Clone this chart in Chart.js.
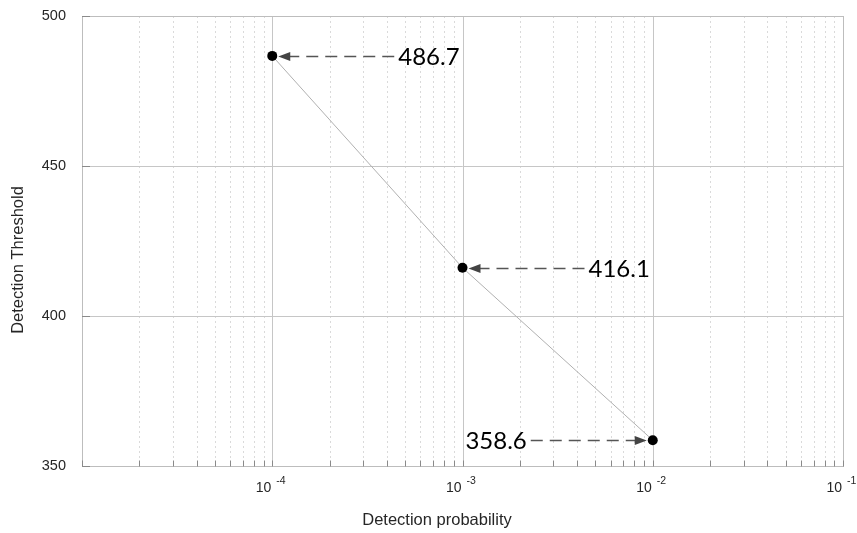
<!DOCTYPE html>
<html>
<head>
<meta charset="utf-8">
<script src="https://cdn.jsdelivr.net/npm/chart.js@4"></script>
<style>
  html,body{margin:0;padding:0;background:#fff;}
  #c{display:block;}
</style>
</head>
<body>
<canvas id="c" width="857" height="533"></canvas>
<script>
// data
const xVals=[1e-4,1e-3,1e-2];
const yVals=[486.7,416.1,358.6];
const yTicks=[350,400,450,500];
const xDecades=[1e-5,1e-4,1e-3,1e-2,1e-1];
const xLabelExps=[-4,-3,-2,-1];
const xMinorMult=[2,3,4,5,6,7,8,9];
// which side each callout sits on (+1 right, -1 left)
const calloutSide=[1,1,-1];

const xGrid=[];
xDecades.forEach((d,i)=>{ xGrid.push(d); if(i<xDecades.length-1) xMinorMult.forEach(m=>xGrid.push(m*d)); });

const FONT='"Liberation Sans", Arial, sans-serif';

const decor={
  id:'decor',
  beforeDatasetsDraw(chart){
    const {ctx,chartArea:a,scales:{x,y}}=chart;
    ctx.save();
    // minor x grid (dotted)
    ctx.lineWidth=1; ctx.strokeStyle='#dadada'; ctx.setLineDash([2,3]);
    xGrid.forEach(v=>{
      if(xDecades.includes(v)) return;
      const px=Math.round(x.getPixelForValue(v))+0.5;
      ctx.beginPath(); ctx.moveTo(px,a.top); ctx.lineTo(px,a.bottom); ctx.stroke();
    });
    ctx.setLineDash([]);
    // major grid
    ctx.strokeStyle='#c6c6c6';
    xDecades.forEach(v=>{
      const px=Math.round(x.getPixelForValue(v))+0.5;
      ctx.beginPath(); ctx.moveTo(px,a.top); ctx.lineTo(px,a.bottom); ctx.stroke();
    });
    yTicks.forEach(v=>{
      const py=Math.round(y.getPixelForValue(v))+0.5;
      ctx.beginPath(); ctx.moveTo(a.left,py); ctx.lineTo(a.right,py); ctx.stroke();
    });
    // box
    ctx.strokeStyle='#bdbdbd';
    ctx.strokeRect(Math.round(a.left)+0.5,Math.round(a.top)+0.5,Math.round(a.right-a.left),Math.round(a.bottom-a.top));
    // inward tick marks
    ctx.strokeStyle='#8a8a8a';
    const bot=Math.round(a.bottom)+0.5;
    xGrid.forEach(v=>{
      const px=Math.round(x.getPixelForValue(v))+0.5;
      ctx.beginPath(); ctx.moveTo(px,bot); ctx.lineTo(px,bot-6); ctx.stroke();
    });
    yTicks.forEach(v=>{
      const py=Math.round(y.getPixelForValue(v))+0.5;
      ctx.beginPath(); ctx.moveTo(a.left,py); ctx.lineTo(a.left+8,py); ctx.stroke();
    });
    // tick labels
    ctx.fillStyle='#262626'; ctx.textBaseline='middle';
    ctx.font='14.5px '+FONT; ctx.textAlign='right';
    yTicks.forEach(v=>{ ctx.fillText(String(v),66,y.getPixelForValue(v)); });
    xLabelExps.forEach(e=>{
      const px=x.getPixelForValue(Math.pow(10,e));
      ctx.font='14px '+FONT; ctx.textAlign='right';
      ctx.fillText('10',px-1,a.bottom+22);
      ctx.font='10.5px '+FONT; ctx.textAlign='left';
      ctx.fillText(String(e),px+4,a.bottom+15);
    });
    // axis titles
    ctx.font='16.5px '+FONT; ctx.textAlign='center';
    ctx.fillText('Detection probability',437,520);
    ctx.save(); ctx.translate(18,260); ctx.rotate(-Math.PI/2);
    ctx.fillText('Detection Threshold',0,0); ctx.restore();
    ctx.restore();
  },
  afterDatasetsDraw(chart){
    const {ctx,scales:{x,y}}=chart;
    ctx.save();
    xVals.forEach((xv,i)=>{
      const px=x.getPixelForValue(xv), py=Math.round(y.getPixelForValue(yVals[i]))+0.5;
      const s=calloutSide[i];
      const tip=px+s*6, tail=px+s*122;
      ctx.strokeStyle='#555'; ctx.lineWidth=1.5; ctx.setLineDash([12,7]);
      ctx.beginPath(); ctx.moveTo(tail,py); ctx.lineTo(tip+s*8,py); ctx.stroke();
      ctx.setLineDash([]);
      ctx.fillStyle='#444';
      ctx.beginPath(); ctx.moveTo(tip,py); ctx.lineTo(tip+s*12,py-4.5); ctx.lineTo(tip+s*12,py+4.5); ctx.closePath(); ctx.fill();
      ctx.fillStyle='#000'; ctx.font='24px Lato, "Open Sans", sans-serif'; ctx.textBaseline='middle';
      ctx.textAlign=s>0?'left':'right';
      ctx.fillText(yVals[i].toFixed(1),px+s*126,py+1);
    });
    ctx.restore();
  }
};

new Chart(document.getElementById('c'),{
  type:'line',
  data:{datasets:[{
    data:xVals.map((v,i)=>({x:v,y:yVals[i]})),
    borderColor:'#b0b0b0',borderWidth:1,
    pointRadius:5,pointBackgroundColor:'#000',pointBorderWidth:0,pointHoverRadius:5
  }]},
  options:{
    responsive:false,animation:false,
    layout:{padding:{top:16,right:14,left:0,bottom:0}},
    plugins:{legend:{display:false},tooltip:{enabled:false}},
    scales:{
      x:{type:'logarithmic',min:1e-5,max:1e-1,
        ticks:{display:false,autoSkip:false},grid:{display:false},border:{display:false},
        afterFit:s=>{s.height=67;}},
      y:{type:'linear',min:350,max:500,
        ticks:{display:false},grid:{display:false},border:{display:false},
        afterFit:s=>{s.width=82;}}
    }
  },
  plugins:[decor]
});
</script>
</body>
</html>
